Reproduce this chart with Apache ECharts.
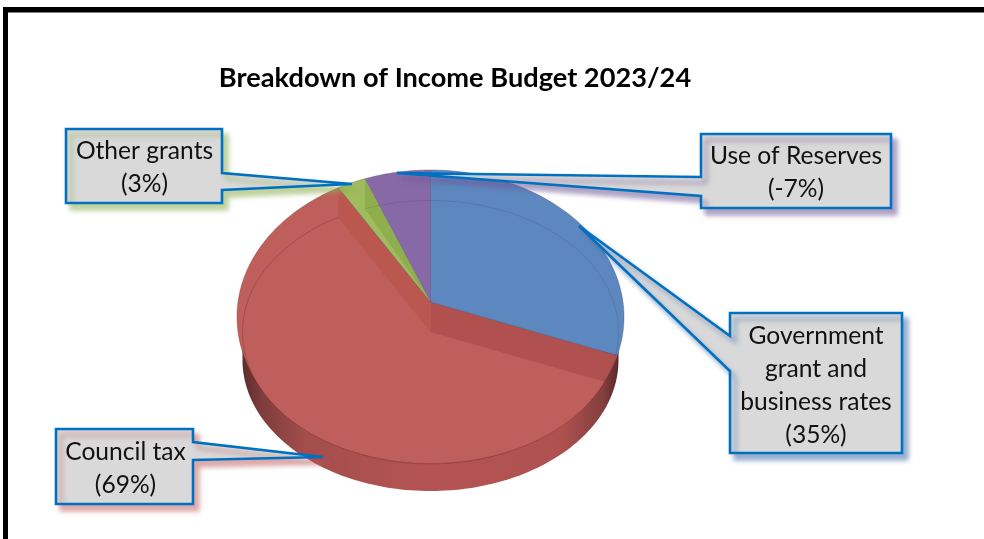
<!DOCTYPE html>
<html>
<head>
<meta charset="utf-8">
<style>html,body{margin:0;padding:0;background:#fff}#c{width:984px;height:539px}</style>
<script src="https://cdn.jsdelivr.net/npm/echarts@6/dist/echarts.min.js"></script>
</head>
<body>
<div id="c"></div>
<script>
const titleText = 'Breakdown of Income Budget 2023/24';
const categories = ['Government\ngrant and\nbusiness rates', 'Council tax', 'Other grants', 'Use of Reserves'];
const values = [35, 69, 3, -7];
const sliceColors = ['#5C88BF', '#BF5F5B', '#A0BC5E', '#8769A7'];
const shadowColors = ['rgba(70,110,170,0.55)', 'rgba(190,90,90,0.5)', 'rgba(140,175,80,0.55)', 'rgba(110,90,150,0.55)'];

// ---- layout of the tilted pie
const K = 1.31;                                   // horizontal stretch of slice directions
const TOP = {ax: 430.5, ay: 302, cx: 430.5, cy: 317, rx: 193.5, ry: 147};
const MID = {ax: 430.5, ay: 332, cx: 430.5, cy: 332, rx: 188, ry: 131.5};
const LOW = {cx: 430.5, cy: 360, rx: 188, ry: 131};

// ---- layout of the callouts: box [x0,y0,x1,y1], pointer [y upper, y lower, side x, tip x, tip y]
const boxes = [[730, 313, 902, 453], [56, 429, 193, 504], [66, 129, 222, 203], [701, 134, 891, 208]];
const pointers = [[336, 371, 730, 579, 226], [442, 460, 193, 323, 457], [173, 190, 222, 352, 184], [177, 196, 701, 397, 173]];
const textCentres = [[816, 386], [125.5, 468.5], [144.5, 168], [796, 173]];

const total = values.reduce((s, v) => s + Math.abs(v), 0);
function sweep(i) {
  let a = 0;
  for (let j = 0; j < i; j++) a += Math.abs(values[j]);
  return [a / total * 2 * Math.PI, (a + Math.abs(values[i])) / total * 2 * Math.PI];
}
// point where the ray from the apex at slice angle t meets the ellipse
function rim(e, t) {
  const dx = K * Math.sin(t), dy = -Math.cos(t);
  const ox = e.ax - e.cx, oy = e.ay - e.cy;
  const A = dx * dx / (e.rx * e.rx) + dy * dy / (e.ry * e.ry);
  const B = 2 * (ox * dx / (e.rx * e.rx) + oy * dy / (e.ry * e.ry));
  const C = ox * ox / (e.rx * e.rx) + oy * oy / (e.ry * e.ry) - 1;
  const s = (-B + Math.sqrt(B * B - 4 * A * C)) / (2 * A);
  return [e.ax + dx * s, e.ay + dy * s];
}
function arc(e, t0, t1) {
  const n = Math.max(2, Math.ceil(Math.abs(t1 - t0) * 40)), out = [];
  for (let i = 0; i <= n; i++) out.push(rim(e, t0 + (t1 - t0) * i / n));
  return out;
}
function sector(e, t0, t1) { return [[e.ax, e.ay]].concat(arc(e, t0, t1)); }
function poly(points, style, z2) {
  return {type: 'polygon', shape: {points}, style, z2: z2 || 0, silent: true};
}
function lowerBand() {
  const pts = [], n = 120;
  for (let i = 0; i <= n; i++) {
    const p = Math.PI * i / n;
    pts.push([LOW.cx + LOW.rx * Math.cos(p), LOW.cy + LOW.ry * Math.sin(p)]);
  }
  pts.unshift([LOW.cx + LOW.rx, LOW.cy - 10]);
  pts.push([LOW.cx - LOW.rx, LOW.cy - 14]);
  return pts;
}

function renderSlice(params, api) {
  const i = params.dataIndex;
  api.value(0);
  const [a0, a1] = sweep(i);
  const color = sliceColors[i];
  const ch = [];
  const ringLine = {fill: 'none', stroke: 'rgba(70,40,70,0.16)', lineWidth: 1};
  if (i === 1) {
    ch.push(poly(lowerBand(), {
      fill: {type: 'linear', x: 0, y: 0, x2: 1, y2: 0, colorStops: [
        {offset: 0, color: '#5E2C2C'}, {offset: 0.05, color: '#7E3C3C'}, {offset: 0.17, color: '#A44E4C'},
        {offset: 0.5, color: '#B45452'}, {offset: 0.85, color: '#AE5150'},
        {offset: 0.96, color: '#823E3E'}, {offset: 1, color: '#5A2A2A'}]}
    }, 1));
    ch.push(poly(sector(TOP, a0, a1), {fill: color, stroke: 'rgba(120,60,60,0.5)', lineWidth: 0.8}, 2));
    ch.push(poly(sector(MID, a0, a1), {fill: color}, 3));
    const pa = rim(TOP, a0), pb = rim(MID, a0);
    ch.push(poly([[TOP.ax, TOP.ay], pa, pb, [MID.ax, MID.ay]], {fill: '#B1514F'}, 4));
    const qa = rim(TOP, a1), qb = rim(MID, a1);
    ch.push(poly([[TOP.ax, TOP.ay], qa, qb, [MID.ax, MID.ay]], {fill: '#BA5850'}, 4));
    ch.push({type: 'polyline', shape: {points: arc(MID, a0, a1)}, style: {fill: 'none', stroke: 'rgba(110,35,40,0.32)', lineWidth: 1}, z2: 5, silent: true});
  } else {
    ch.push(poly(sector(TOP, a0, a1), {fill: color, stroke: 'rgba(70,70,110,0.45)', lineWidth: 0.8}, 6));
    if (i === 2) {
      ch.push(poly([[TOP.ax, TOP.ay], rim(TOP, a1), rim(MID, a1)], {fill: '#8FAF4E'}, 7));
    } else {
      ch.push({type: 'polyline', shape: {points: arc(MID, a0, a1)}, style: ringLine, z2: 7, silent: true});
    }
  }
  return {type: 'group', children: ch};
}

function renderCallout(params, api) {
  const i = params.dataIndex;
  const v = api.value(0);
  const [x0, y0, x1, y1] = boxes[i];
  const [pu, pl, px, tx, ty] = pointers[i];
  let pts;
  if (px === x0) pts = [[x0, y0], [x1, y0], [x1, y1], [x0, y1], [x0, pl], [tx, ty], [x0, pu]];
  else pts = [[x0, y0], [x1, y0], [x1, pu], [tx, ty], [x1, pl], [x1, y1], [x0, y1]];
  return {type: 'group', children: [
    {type: 'polygon', shape: {points: pts}, silent: true,
      style: {fill: '#D9D9D9', stroke: '#0070C0', lineWidth: 2.6, lineJoin: 'miter', miterLimit: 3,
        shadowColor: shadowColors[i], shadowBlur: 5, shadowOffsetX: 5, shadowOffsetY: 6}},
    {type: 'text', silent: true, x: textCentres[i][0], y: textCentres[i][1], z2: 2,
      style: {text: categories[i] + '\n(' + v + '%)', fill: '#111', align: 'center', verticalAlign: 'middle',
        font: '24.6px Lato', lineHeight: 33}}
  ]};
}

const chart = echarts.init(document.getElementById('c'), null, {renderer: 'canvas'});
chart.setOption({
  animation: false,
  backgroundColor: '#fff',
  title: {
    text: titleText, left: 450, top: 60, textAlign: 'center',
    textStyle: {fontFamily: 'Lato', fontWeight: 'bold', fontSize: 27.2, color: '#000'}
  },
  graphic: [
    {type: 'rect', shape: {x: 3, y: 7, width: 5, height: 532}, style: {fill: '#000'}, silent: true},
    {type: 'rect', shape: {x: 3, y: 7, width: 981, height: 5.5}, style: {fill: '#000'}, silent: true}
  ],
  series: [
    {type: 'custom', name: 'slices', coordinateSystem: 'none', z: 2, silent: true,
      renderItem: renderSlice, data: values.map(v => [v])},
    {type: 'custom', name: 'callouts', coordinateSystem: 'none', z: 3, silent: true,
      renderItem: renderCallout, data: values.map(v => [v])}
  ]
});
</script>
</body>
</html>
